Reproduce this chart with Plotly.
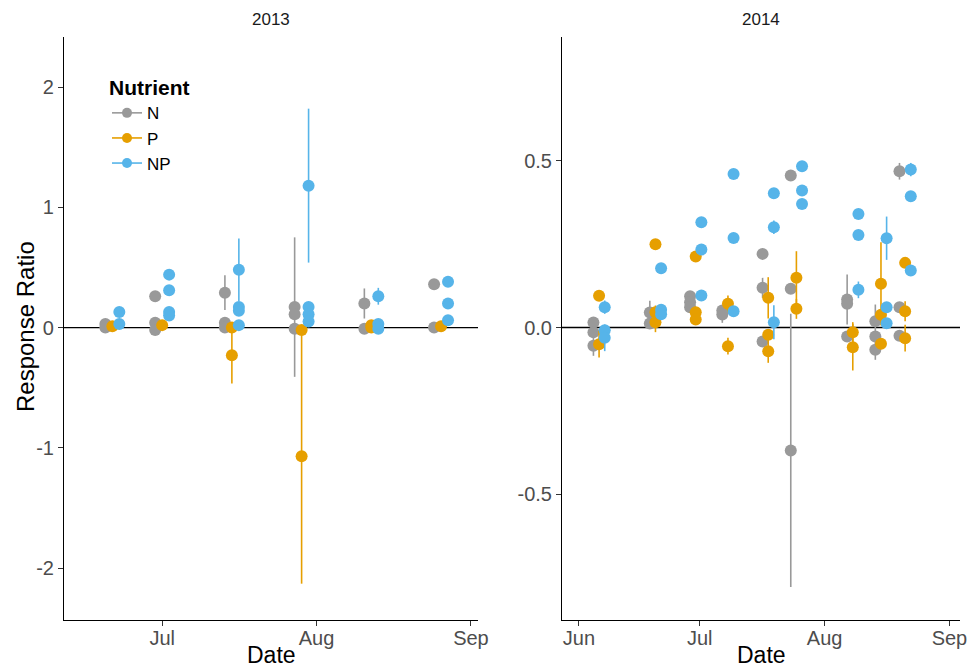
import pandas as pd
import plotly.graph_objects as go

# Nutrient styling and side-by-side dodge (in days) within each sampling date
NUTRIENTS = ["N", "P", "NP"]
COLORS = {"N": "#999999", "P": "#E69F00", "NP": "#56B4E9"}
DODGE_DAYS = {"N": -1.4, "P": 0.0, "NP": 1.4}

# ---- 2013 response ratios (mean and half-width of interval) ----
date_2013 = (["2013-06-21"] * 5 + ["2013-07-01"] * 8 + ["2013-07-15"] * 9
             + ["2013-07-29"] * 9 + ["2013-08-12"] * 7 + ["2013-08-26"] * 6)
nutr_2013 = (["N", "N", "P", "NP", "NP"]
             + ["N", "N", "N", "P", "NP", "NP", "NP", "NP"]
             + ["N", "N", "N", "P", "P", "NP", "NP", "NP", "NP"]
             + ["N", "N", "N", "P", "P", "NP", "NP", "NP", "NP"]
             + ["N", "N", "P", "P", "NP", "NP", "NP"]
             + ["N", "N", "P", "NP", "NP", "NP"])
ratio_2013 = ([0.03, 0.00, 0.01, 0.13, 0.03]
              + [0.26, 0.04, -0.02, 0.02, 0.44, 0.31, 0.13, 0.10]
              + [0.29, 0.04, 0.00, 0.00, -0.23, 0.48, 0.17, 0.14, 0.02]
              + [0.17, 0.11, -0.01, -0.02, -1.07, 1.18, 0.17, 0.11, 0.05]
              + [0.20, -0.01, 0.02, 0.00, 0.26, 0.03, -0.01]
              + [0.36, 0.00, 0.01, 0.38, 0.20, 0.06])
err_2013 = ([0.01, 0.01, 0.01, 0.04, 0.01]
            + [0.02, 0.01, 0.01, 0.01, 0.02, 0.01, 0.01, 0.01]
            + [0.145, 0.01, 0.01, 0.01, 0.235, 0.26, 0.01, 0.01, 0.01]
            + [0.58, 0.01, 0.01, 0.01, 1.06, 0.64, 0.01, 0.01, 0.01]
            + [0.125, 0.01, 0.01, 0.01, 0.07, 0.01, 0.01]
            + [0.02, 0.01, 0.01, 0.01, 0.01, 0.01])

# ---- 2014 response ratios ----
date_2014 = (["2014-06-06"] * 8 + ["2014-06-20"] * 8 + ["2014-06-30"] * 9
             + ["2014-07-08"] * 7 + ["2014-07-18"] * 9 + ["2014-07-25"] * 8
             + ["2014-08-08"] * 8 + ["2014-08-15"] * 9 + ["2014-08-21"] * 9)
nutr_2014 = (["N", "N", "N", "P", "P", "NP", "NP", "NP"]
             + ["N", "N", "P", "P", "P", "NP", "NP", "NP"]
             + ["N", "N", "N", "P", "P", "P", "NP", "NP", "NP"]
             + ["N", "N", "P", "P", "NP", "NP", "NP"]
             + ["N", "N", "N", "P", "P", "P", "NP", "NP", "NP"]
             + ["N", "N", "N", "P", "P", "NP", "NP", "NP"]
             + ["N", "N", "N", "P", "P", "NP", "NP", "NP"]
             + ["N", "N", "N", "P", "P", "P", "NP", "NP", "NP"]
             + ["N", "N", "N", "P", "P", "P", "NP", "NP", "NP"])
ratio_2014 = ([0.015, -0.014, -0.055, 0.095, -0.050, 0.061, -0.008, -0.031]
              + [0.045, 0.012, 0.250, 0.046, 0.016, 0.178, 0.053, 0.040]
              + [0.094, 0.076, 0.061, 0.213, 0.046, 0.024, 0.316, 0.234, 0.096]
              + [0.051, 0.039, 0.071, -0.056, 0.461, 0.269, 0.049]
              + [0.221, 0.119, -0.042, 0.089, -0.022, -0.071, 0.403, 0.301, 0.016]
              + [0.456, 0.116, -0.369, 0.149, 0.056, 0.484, 0.411, 0.371]
              + [0.084, 0.071, -0.027, -0.014, -0.059, 0.341, 0.278, 0.113]
              + [0.019, -0.027, -0.067, 0.131, 0.038, -0.049, 0.268, 0.061, 0.013]
              + [0.469, 0.061, -0.025, 0.194, 0.049, -0.032, 0.474, 0.394, 0.171])
err_2014 = ([0.010, 0.010, 0.030, 0.010, 0.040, 0.020, 0.010, 0.040]
            + [0.035, 0.010, 0.010, 0.020, 0.030, 0.010, 0.010, 0.010]
            + [0.010, 0.010, 0.010, 0.010, 0.010, 0.010, 0.010, 0.010, 0.010]
            + [0.010, 0.025, 0.025, 0.025, 0.015, 0.010, 0.010]
            + [0.010, 0.030, 0.010, 0.062, 0.010, 0.035, 0.010, 0.020, 0.051]
            + [0.015, 0.010, 0.410, 0.080, 0.030, 0.010, 0.010, 0.010]
            + [0.075, 0.010, 0.010, 0.030, 0.070, 0.010, 0.010, 0.025]
            + [0.050, 0.010, 0.030, 0.125, 0.010, 0.010, 0.065, 0.010, 0.010]
            + [0.025, 0.010, 0.010, 0.010, 0.030, 0.040, 0.020, 0.010, 0.010])

# axis tick labels
ticks_y_2013 = [-2, -1, 0, 1, 2]
ticks_y_2014 = [-0.5, 0.0, 0.5]
ticks_x_2013 = ["2013-07-01", "2013-08-01", "2013-09-01"]
ticks_x_2014 = ["2014-06-01", "2014-07-01", "2014-08-01", "2014-09-01"]

FONT = "Liberation Sans, Arial, Helvetica, sans-serif"
TICK_COLOR = "#4D4D4D"


def frame(dates, nutr, ratio, err):
    df = pd.DataFrame({"date": pd.to_datetime(dates), "nutrient": nutr,
                       "ratio": ratio, "err": err})
    df["xpos"] = df["date"] + pd.to_timedelta(df["nutrient"].map(DODGE_DAYS), unit="D")
    return df


def hyphen_labels(vals, fmt):
    return [fmt.format(v).replace("\u2212", "-") for v in vals]


panels = [
    (frame(date_2013, nutr_2013, ratio_2013, err_2013), "x", "y"),
    (frame(date_2014, nutr_2014, ratio_2014, err_2014), "x2", "y2"),
]

fig = go.Figure()
for df, xa, ya in panels:
    for nut in NUTRIENTS:
        sub = df[df["nutrient"] == nut]
        fig.add_trace(go.Scatter(
            x=sub["xpos"], y=sub["ratio"], mode="markers",
            xaxis=xa, yaxis=ya, showlegend=False, hoverinfo="skip",
            marker=dict(color=COLORS[nut], size=12, line=dict(width=0)),
            error_y=dict(type="data", array=sub["err"], color=COLORS[nut],
                         thickness=1.6, width=0),
        ))

# legend keys
for nut in NUTRIENTS:
    fig.add_trace(go.Scatter(
        x=[None], y=[None], mode="lines+markers", name=nut,
        line=dict(color=COLORS[nut], width=1.6),
        marker=dict(color=COLORS[nut], size=10),
    ))

W, H = 967, 669
top_px, bot_px = 37, 620
ydom = [1 - bot_px / H, 1 - top_px / H]

axis_common = dict(
    showline=True, linecolor="black", linewidth=1.1,
    ticks="outside", ticklen=5, tickcolor="#333333", tickwidth=1.1,
    showgrid=False, zeroline=False, automargin=False,
    ticklabeloverflow="allow",
    tickfont=dict(family=FONT, size=20, color=TICK_COLOR),
)


def text_label(text, xpx, ypx, size, angle=0, color="black"):
    return dict(text=text, x=xpx / W, y=1 - ypx / H, xref="paper", yref="paper",
                xanchor="center", yanchor="middle", showarrow=False,
                textangle=angle, font=dict(size=size, family=FONT, color=color))


fig.update_layout(
    width=W, height=H,
    margin=dict(l=0, r=0, t=0, b=0, autoexpand=False),
    paper_bgcolor="white", plot_bgcolor="white",
    font=dict(family=FONT, color="black"),
    xaxis=dict(domain=[64 / W, 478 / W], anchor="y", type="date",
               range=["2013-06-11 07:00", "2013-09-02 10:00"],
               tickvals=ticks_x_2013, tickformat="%b", ticklabelstandoff=-5,
               **axis_common),
    yaxis=dict(domain=ydom, anchor="x", range=[-2.432, 2.416],
               tickvals=ticks_y_2013,
               ticktext=hyphen_labels(ticks_y_2013, "{:g}"),
               **axis_common),
    xaxis2=dict(domain=[562 / W, 960 / W], anchor="y2", type="date",
                range=["2014-05-27 19:00", "2014-09-03 15:00"],
                tickvals=ticks_x_2014, tickformat="%b", ticklabelstandoff=-5,
                **axis_common),
    yaxis2=dict(domain=ydom, anchor="x2", range=[-0.878, 0.872],
                tickvals=ticks_y_2014,
                ticktext=hyphen_labels(ticks_y_2014, "{:.1f}"),
                **axis_common),
    legend=dict(
        x=107 / W, y=1 - 68 / H, xanchor="left", yanchor="top",
        bgcolor="rgba(0,0,0,0)",
        title=dict(text="<b>Nutrient</b>", font=dict(size=21, family=FONT)),
        font=dict(size=17, family=FONT, color="black"),
        itemwidth=30, tracegroupgap=0,
    ),
    annotations=[
        text_label("2013", 271, 19.5, 17, color="#1A1A1A"),
        text_label("2014", 761, 19.5, 17, color="#1A1A1A"),
        text_label("Response Ratio", 25, 327, 24, angle=-90),
        text_label("Date", 271, 655, 23),
        text_label("Date", 761, 655, 23),
    ],
    shapes=[
        dict(type="line", xref="x domain", yref="y", x0=0, x1=1, y0=0, y1=0,
             line=dict(color="black", width=1.3), layer="below"),
        dict(type="line", xref="x2 domain", yref="y2", x0=0, x1=1, y0=0, y1=0,
             line=dict(color="black", width=1.3), layer="below"),
    ],
)

fig.write_html("out.html")
